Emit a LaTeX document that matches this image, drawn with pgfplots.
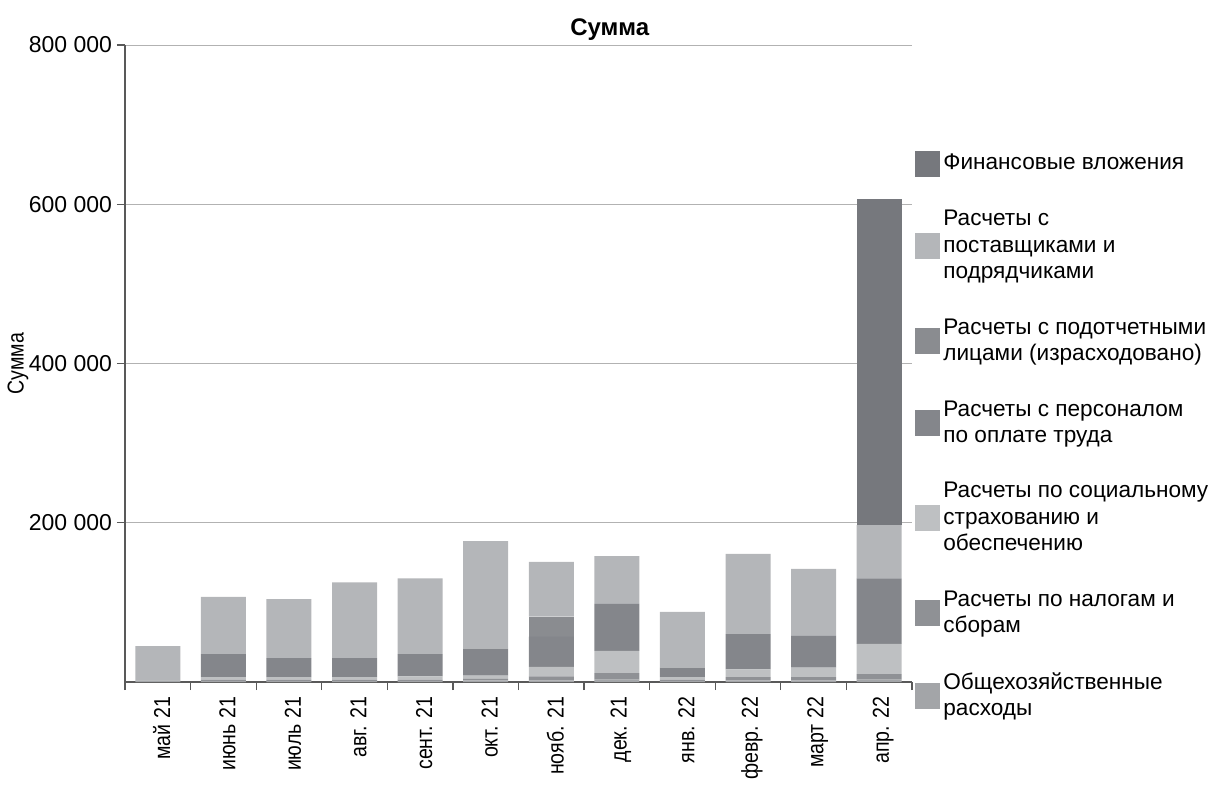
\documentclass[border=0pt]{standalone}
\usepackage{pgfplots}
\pgfplotsset{compat=1.18}
\usepackage{pgfplotstable}
\usepackage{fontspec}
\setmainfont{Liberation Sans}
\newfontfamily\condfont[FakeStretch=0.85]{Liberation Sans}

\definecolor{cO}{HTML}{A3A5A8}
\definecolor{cN}{HTML}{8F9195}
\definecolor{cS}{HTML}{BEC0C2}
\definecolor{cP}{HTML}{84868B}
\definecolor{cA}{HTML}{8A8C90}
\definecolor{cV}{HTML}{B4B6B9}
\definecolor{cF}{HTML}{76787D}

\pgfplotstableread{
x  O    N    S     P     A     V      F
0  2000 0    0     0     0     43000  0
1  1000 2000 3000  29000 0     72000  0
2  1000 2000 3000  24000 0     74000  0
3  1000 2000 3000  24000 0     95000  0
4  1000 2000 4000  28000 0     95000  0
5  2000 2000 4000  34000 0     135000 0
6  2000 5000 12000 38000 25000 69000  0
7  3000 8000 28000 59000 0     60000  0
8  1000 2000 3000  12000 0     70000  0
9  2000 4000 10000 44000 0     101000 0
10 2000 4000 12000 40000 0     84000  0
11 3000 7000 38000 82000 0     67000  409000
}\data

\begin{document}
\begin{tikzpicture}
\path[use as bounding box] (0,0) rectangle (606.5bp,397.5bp);
\begin{axis}[
  at={(62.5bp,56.5bp)}, anchor=south west,
  scale only axis, width=393.5bp, height=318.5bp,
  xmin=-0.5, xmax=11.5, ymin=0, ymax=800000,
  scaled y ticks=false,
  ybar stacked, bar width=22.5bp,
  axis x line=bottom, axis y line=left,
  axis line style={-, draw=black!65, line width=0.6pt},
  xtick={0,...,11},
  xticklabels={май 21,июнь 21,июль 21,авг. 21,сент. 21,окт. 21,нояб. 21,дек. 21,янв. 22,февр. 22,март 22,апр. 22},
  major x tick style={draw=none},
  minor xtick={-0.5,0.5,...,11.5},
  minor tick length=4bp, major tick length=4bp,
  tick align=outside,
  tick style={draw=black!65, line width=0.6pt},
  xticklabel style={rotate=90, anchor=east, yshift=-2bp, font=\condfont\fontsize{11.5bp}{13bp}\selectfont},
  ytick={200000,400000,600000,800000},
  yticklabels={200 000,400 000,600 000,800 000},
  yticklabel style={xshift=1bp, font=\fontsize{11.5bp}{14bp}\selectfont},
  ymajorgrids, grid style={black!30, line width=0.5pt},
  title={Сумма},
  title style={at={(axis description cs:0.616,1.005)}, anchor=center, yshift=0pt, font=\bfseries\fontsize{12bp}{14bp}\selectfont},
  ylabel={Сумма},
  ylabel style={at={(axis description cs:-0.136,0.5)}, anchor=center, font=\condfont\fontsize{11.5bp}{14bp}\selectfont},
  legend style={at={(axis description cs:1.0038,0.835)}, anchor=north west, draw=none, fill=none, inner sep=0pt,
    row sep=15.4bp, column sep=0pt, font=\fontsize{11.3bp}{13.25bp}\selectfont,
    nodes={align=left, inner sep=1.5bp}},
  legend cell align=left,
  reverse legend,
  legend image code/.code={\fill[#1, draw=none] (0bp,-6.5bp) rectangle (12.5bp,6.5bp);},
]
\addplot[fill=cO, draw=none] table[x=x, y=O] {\data};
\addlegendentry{Общехозяйственные\\расходы}
\addplot[fill=cN, draw=none] table[x=x, y=N] {\data};
\addlegendentry{Расчеты по налогам и\\сборам}
\addplot[fill=cS, draw=none] table[x=x, y=S] {\data};
\addlegendentry{Расчеты по социальному\\страхованию и\\обеспечению}
\addplot[fill=cP, draw=none] table[x=x, y=P] {\data};
\addlegendentry{Расчеты с персоналом\\по оплате труда}
\addplot[fill=cA, draw=none] table[x=x, y=A] {\data};
\addlegendentry{Расчеты с подотчетными\\лицами (израсходовано)}
\addplot[fill=cV, draw=none] table[x=x, y=V] {\data};
\addlegendentry{Расчеты с\\поставщиками и\\подрядчиками}
\addplot[fill=cF, draw=none] table[x=x, y=F] {\data};
\addlegendentry{Финансовые вложения}
\end{axis}
\end{tikzpicture}
\end{document}
